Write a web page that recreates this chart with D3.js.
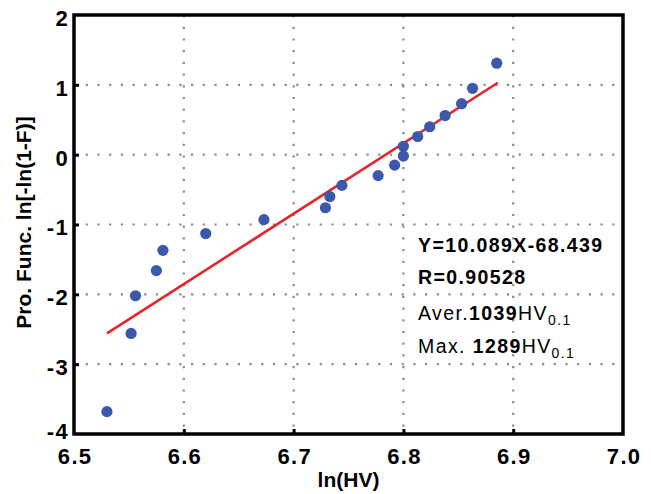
<!DOCTYPE html>
<html>
<head>
<meta charset="utf-8">
<script src="https://cdn.jsdelivr.net/npm/d3@7"></script>
<style>
    body { margin: 0; background: #fff; }
    text { font-family: "Liberation Sans", Arial, sans-serif; }
    .tick-label { font-size: 22px; font-weight: bold; letter-spacing: 1.3px; }
    .axis-title { font-size: 21px; font-weight: bold; }
    .note { font-size: 19.5px; letter-spacing: 1.4px; }
</style>
</head>
<body>
<div id="chart"></div>
<script>

// data
let lnHV = [6.530, 6.552, 6.556, 6.575, 6.581, 6.620, 6.673, 6.729, 6.733, 6.744, 6.777,
    6.792, 6.800, 6.800, 6.813, 6.824, 6.838, 6.853, 6.863, 6.885];
let probFunc = [-3.68, -2.56, -2.02, -1.66, -1.37, -1.13, -0.93, -0.76, -0.60, -0.44, -0.30,
    -0.15, -0.02, 0.12, 0.26, 0.40, 0.56, 0.73, 0.95, 1.31];

// fitted line end points
let fitX = [6.530, 6.886];
let fitY = [-2.56, 1.03];

let xTicks = [6.5, 6.6, 6.7, 6.8, 6.9, 7.0];
let yTicks = [-4, -3, -2, -1, 0, 1, 2];

class ScatterChart {

    constructor(_parentElement) {
        this.parentElement = _parentElement;
        this.data = lnHV.map((d, i) => ({x: d, y: probFunc[i]}));
        this.initVis();
    }

    initVis() {
        let vis = this;

        vis.margin = {top: 15, right: 28, bottom: 60, left: 74};
        vis.width = 651 - vis.margin.left - vis.margin.right;
        vis.height = 494 - vis.margin.top - vis.margin.bottom;

        vis.svg = d3.select("#" + vis.parentElement).append("svg")
            .attr("width", 651)
            .attr("height", 494)
            .append("g")
            .attr("transform", "translate(" + vis.margin.left + "," + vis.margin.top + ")");

        vis.x = d3.scaleLinear().domain([6.5, 7.0]).range([0, vis.width]);
        vis.y = d3.scaleLinear().domain([-4, 2]).range([vis.height, 0]);

        // dotted grid
        vis.svg.append("g")
            .selectAll("line")
            .data(xTicks.slice(1, -1))
            .enter().append("line")
            .attr("x1", d => vis.x(d)).attr("x2", d => vis.x(d))
            .attr("y1", 0).attr("y2", vis.height)
            .attr("stroke", "#8a8a8a")
            .attr("stroke-width", 2.2)
            .attr("stroke-dasharray", "2.2,9.5");

        vis.svg.append("g")
            .selectAll("line")
            .data(yTicks.slice(1, -1))
            .enter().append("line")
            .attr("y1", d => vis.y(d)).attr("y2", d => vis.y(d))
            .attr("x1", 0).attr("x2", vis.width)
            .attr("stroke", "#8a8a8a")
            .attr("stroke-width", 2.2)
            .attr("stroke-dasharray", "2.2,9.5");

        // axes (ticks point inward)
        vis.xAxis = d3.axisBottom(vis.x)
            .tickValues(xTicks)
            .tickFormat(d3.format(".1f"))
            .tickSizeInner(-5)
            .tickSizeOuter(0)
            .tickPadding(14);
        vis.yAxis = d3.axisLeft(vis.y)
            .tickValues(yTicks)
            .tickFormat(d => String(d))
            .tickSizeInner(-5)
            .tickSizeOuter(0)
            .tickPadding(5);

        vis.xAxisGroup = vis.svg.append("g")
            .attr("class", "axis x-axis")
            .attr("transform", "translate(0," + vis.height + ")")
            .call(vis.xAxis);
        vis.yAxisGroup = vis.svg.append("g")
            .attr("class", "axis y-axis")
            .call(vis.yAxis);

        vis.svg.selectAll(".axis .domain").remove();
        vis.svg.selectAll(".axis .tick line")
            .attr("stroke", "#000")
            .attr("stroke-width", 3);
        vis.svg.selectAll(".axis .tick text")
            .attr("class", "tick-label")
            .attr("fill", "#000")
            .attr("font-family", null)
            .attr("font-size", null);
        vis.yAxisGroup.selectAll(".tick text").attr("dy", d => d === -4 ? "0.22em" : "0.47em");
        vis.xAxisGroup.selectAll(".tick text").attr("dy", "0.71em").attr("dx", 0.6);
        vis.xAxisGroup.selectAll(".tick").filter(d => d === 6.5 || d === 7.0).select("line").remove();
        vis.yAxisGroup.selectAll(".tick").filter(d => d === 2 || d === -4).select("line").remove();

        // frame
        vis.svg.append("rect")
            .attr("width", vis.width)
            .attr("height", vis.height)
            .attr("fill", "none")
            .attr("stroke", "#000")
            .attr("stroke-width", 3.5);

        // fitted line
        vis.svg.append("line")
            .attr("x1", vis.x(fitX[0])).attr("y1", vis.y(fitY[0]))
            .attr("x2", vis.x(fitX[1])).attr("y2", vis.y(fitY[1]))
            .attr("stroke", "#e3262b")
            .attr("stroke-width", 2.6);

        // points
        vis.svg.selectAll(".pt")
            .data(vis.data)
            .enter().append("circle")
            .attr("class", "pt")
            .attr("cx", d => vis.x(d.x))
            .attr("cy", d => vis.y(d.y))
            .attr("r", 5.6)
            .attr("fill", "#3b58aa");

        // axis titles
        vis.svg.append("text")
            .attr("class", "axis-title")
            .attr("text-anchor", "middle")
            .attr("x", vis.width / 2)
            .attr("y", vis.height + 53)
            .text("ln(HV)");

        vis.svg.append("text")
            .attr("class", "axis-title")
            .attr("text-anchor", "middle")
            .attr("x", -vis.height / 2 + 2)
            .attr("y", -43)
            .attr("transform", "rotate(-90)")
            .text("Pro. Func. ln[-ln(1-F)]");

        // annotation
        let nx = 344;
        vis.svg.append("text")
            .attr("class", "note")
            .attr("font-weight", "bold")
            .attr("x", nx).attr("y", 237)
            .text("Y=10.089X-68.439");
        vis.svg.append("text")
            .attr("class", "note")
            .attr("font-weight", "bold")
            .attr("x", nx).attr("y", 269)
            .text("R=0.90528");

        let rows = [["Aver.", "1039", 305], ["Max. ", "1289", 338]];
        rows.forEach(r => {
            let t = vis.svg.append("text")
                .attr("class", "note")
                .attr("x", nx).attr("y", r[2]);
            t.append("tspan").text(r[0]);
            t.append("tspan").attr("font-weight", "bold").text(r[1]);
            t.append("tspan").text("HV");
            t.append("tspan").attr("font-size", "14px").attr("dy", 5).text("0.1");
        });
    }
}

new ScatterChart("chart");
</script>
</body>
</html>
